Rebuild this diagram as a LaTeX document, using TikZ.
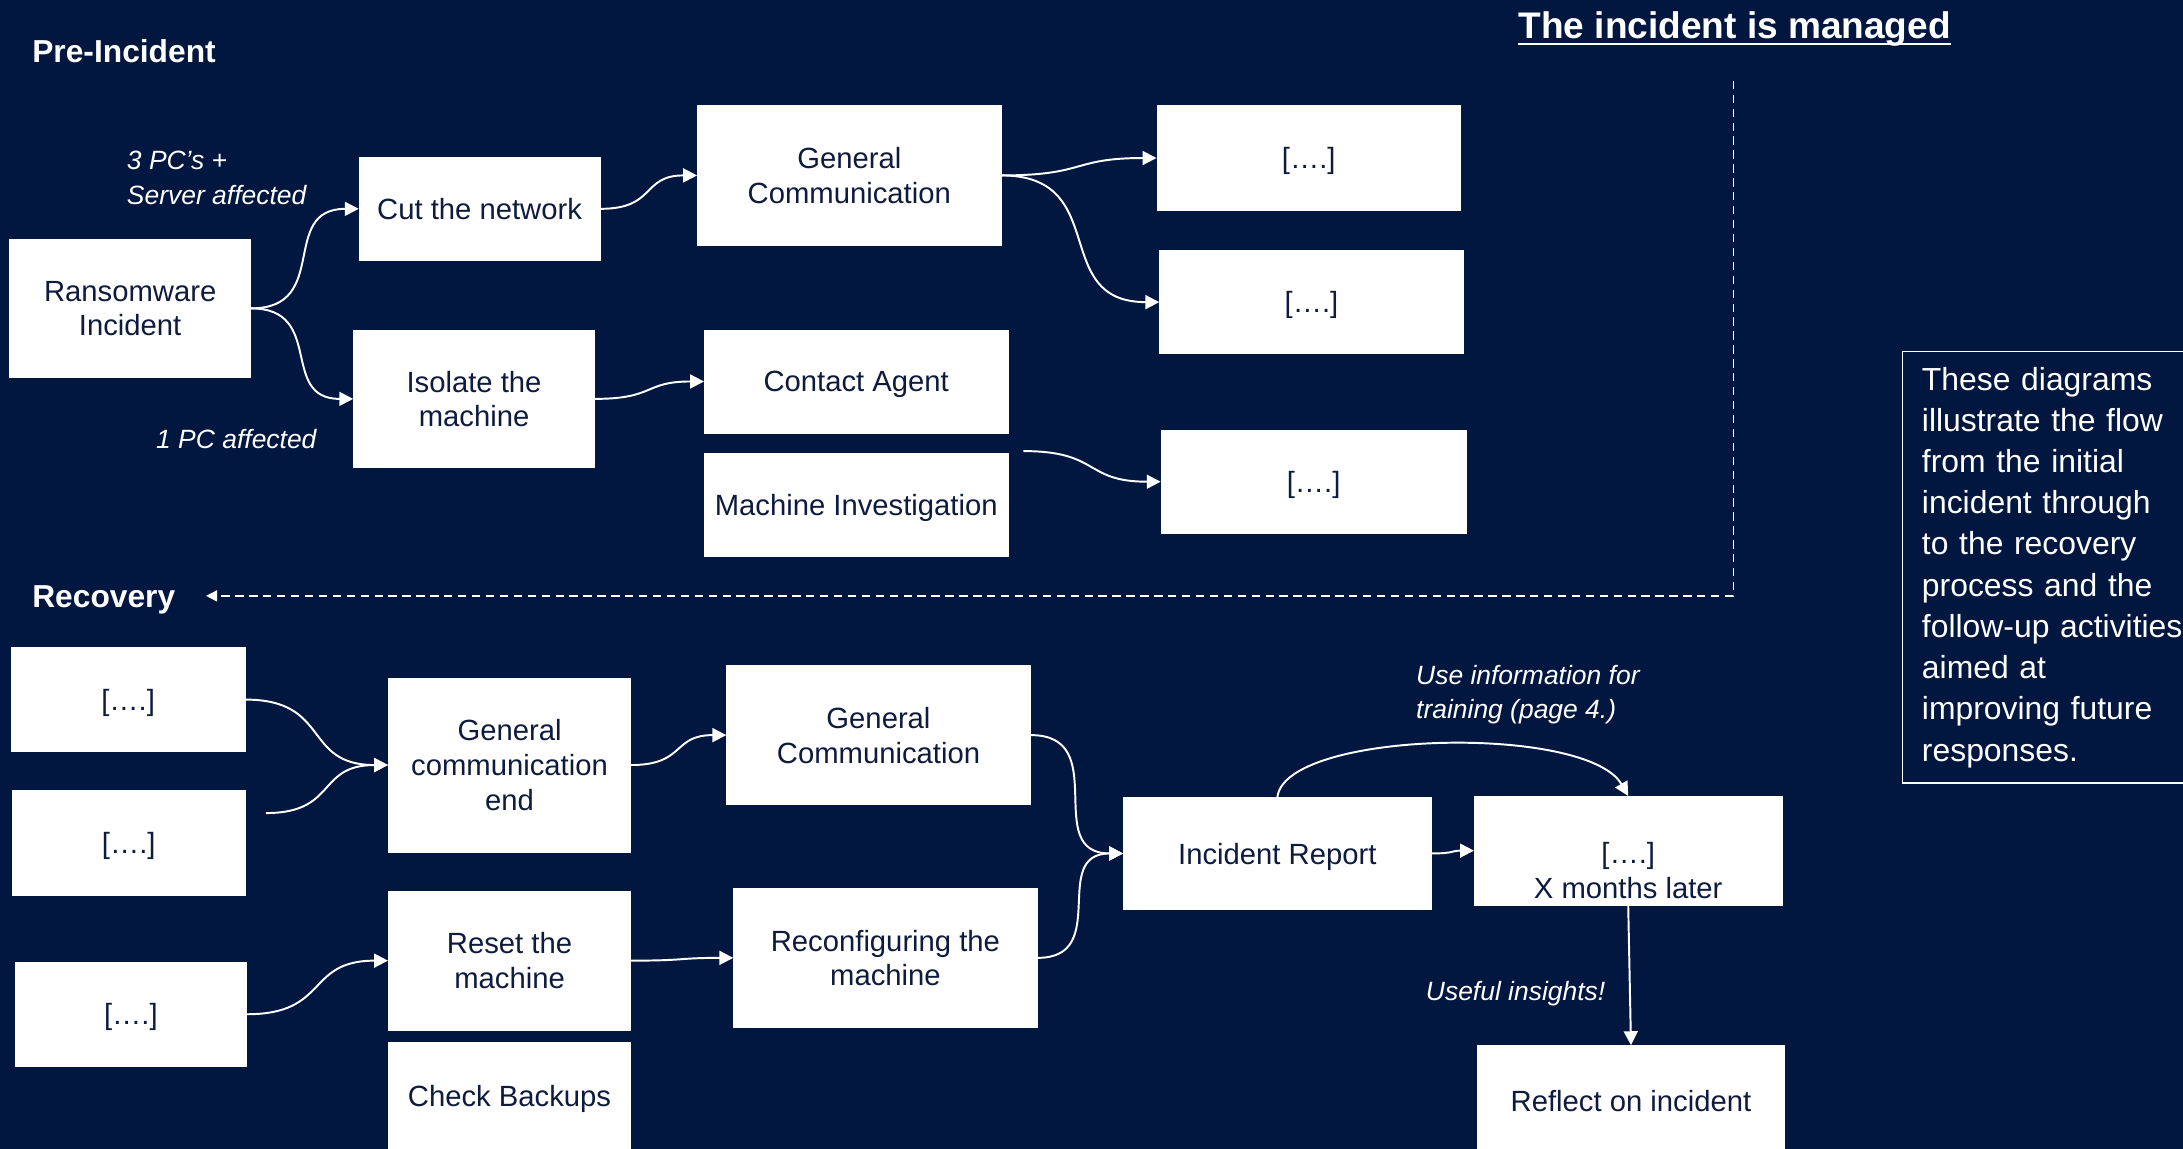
\documentclass[tikz,border=0pt]{standalone}
\usepackage{fontspec}
\setmainfont{Liberation Sans}
\usetikzlibrary{arrows.meta}
\definecolor{bg}{HTML}{011740}
\definecolor{ink}{HTML}{0E1B3D}
\tikzset{
  box/.style={draw=white, fill=white, line width=0.6pt, inner sep=0pt, text=ink, align=center, text depth=0pt, font=\fontsize{21}{25}\selectfont},
  boxtext/.style={inner sep=0pt, text=ink, align=center, font=\fontsize{21}{25}\selectfont},
  lbl/.style={text=white, align=left, inner sep=0pt, font=\fontsize{19}{25}\selectfont\itshape},
  head/.style={text=white, inner sep=0pt, font=\fontsize{22.8}{26}\selectfont\bfseries},
  flow/.style={draw=white, line width=1.4pt, looseness=1.4, -{Triangle[length=10pt,width=10pt]}},
  dashflow/.style={draw=white, line width=1.1pt, dash pattern=on 6pt off 4pt, -{Triangle[length=8pt,width=8pt]}},
}
\begin{document}
\begin{tikzpicture}[x=1pt,y=1pt]
\useasboundingbox (0,0) rectangle (1568,-825);
\fill[bg] (0,0) rectangle (1568,-825);

% headings
\node[head, anchor=base west] (pre) at (23,-45) {Pre-Incident};
\node[head, anchor=base west] (recovery) at (23,-436) {Recovery};
\node[text=white, inner sep=0pt, font=\fontsize{26.6}{30}\selectfont\bfseries, anchor=base] (title) at (1246,-28) {The incident is managed};
\draw[white, line width=1.3pt] ([yshift=-3.5pt]title.base west) -- ([yshift=-3.5pt]title.base east);

% pre-incident boxes
\node[box, minimum width=173pt, minimum height=99pt] (ransom) at (93.5,-221.5) {Ransomware\\Incident};
\node[box, minimum width=173pt, minimum height=74pt] (cut) at (344.5,-150) {Cut the network};
\node[box, minimum width=173pt, minimum height=99pt] (isolate) at (340.5,-286.5) {Isolate the\\machine};
\node[box, minimum width=218pt, minimum height=100pt] (gc1) at (610,-126) {General\\Communication};
\node[box, minimum width=218pt, minimum height=74pt] (contact) at (615,-274) {Contact Agent};
\node[box, minimum width=218pt, minimum height=74pt] (minv) at (615,-363) {Machine Investigation};
\node[box, minimum width=218pt, minimum height=75pt] (d1) at (940,-113.5) {[….]};
\node[box, minimum width=218pt, minimum height=74pt] (d2) at (942,-217) {[….]};
\node[box, minimum width=219pt, minimum height=74pt] (d3) at (943.5,-346) {[….]};

% recovery boxes
\node[box, minimum width=168pt, minimum height=75pt] (ra) at (92,-502.5) {[….]};
\node[box, minimum width=167pt, minimum height=75pt] (rb) at (92.5,-605.5) {[….]};
\node[box, minimum width=166pt, minimum height=75pt] (rc) at (94,-728.5) {[….]};
\node[box, minimum width=174pt, minimum height=125pt] (gce) at (366,-549.5) {General\\communication\\end};
\node[box, minimum width=174pt, minimum height=100pt] (reset) at (366,-690) {Reset the\\machine};
\node[box, minimum width=174pt, minimum height=76pt] (backup) at (366,-787) {Check Backups};
\node[box, minimum width=218pt, minimum height=100pt] (gc2) at (631,-528) {General\\Communication};
\node[box, minimum width=218pt, minimum height=100pt] (reconf) at (636,-688) {Reconfiguring the\\machine};
\node[box, minimum width=221pt, minimum height=80pt] (ir) at (917.5,-613) {Incident Report};
\node[box, minimum width=221pt, minimum height=78pt] (later) at (1169.5,-611) {};
\node[boxtext] (latertext) at (1169.5,-625) {[….]\\X months later};
\node[box, minimum width=221pt, minimum height=80pt] (reflect) at (1171.5,-791) {Reflect on incident};

% labels
\node[lbl, anchor=west] (l1) at (91,-127.5) {3 PC’s +\\Server affected};
\node[lbl, anchor=west] (l2) at (112,-315) {1 PC affected};
\node[lbl, anchor=west] (l3) at (1017,-499) {Use information for\\training (page 4.)};
\node[lbl, anchor=west] (l4) at (1024,-714) {Useful insights!};

% note
\node[draw=white, line width=1pt, anchor=north west, minimum height=310pt, text width=212pt, align=left, inner xsep=14pt, inner ysep=0pt, text=white, font=\fontsize{22.9}{29.6}\selectfont] (note) at (1366,-252) {These diagrams\\illustrate the flow\\from the initial\\incident through\\to the recovery\\process and the\\follow-up activities\\aimed at\\improving future\\responses.};

% connectors pre-incident
\draw[flow] (ransom.east) to[out=0,in=180] (cut.west);
\draw[flow] (ransom.east) to[out=0,in=180] (isolate.west);
\draw[flow] (cut.east) to[out=0,in=180] (gc1.west);
\draw[flow] (isolate.east) to[out=0,in=180] (contact.west);
\draw[flow] (gc1.east) to[out=0,in=180] (d1.west);
\draw[flow] (gc1.east) to[out=0,in=180] (d2.west);
\coordinate (mstart) at (735,-324);
\draw[flow] (mstart) to[out=0,in=180] (d3.west);

% dashed
\coordinate (dtop) at (1245,-58);
\coordinate (dend) at (148,-428);
\draw[dashflow] (dtop) -- (dtop |- dend) -- (dend);

% connectors recovery
\draw[flow] (ra.east) to[out=0,in=180] (gce.west);
\coordinate (rbstart) at (191,-584);
\draw[flow] (rbstart) to[out=0,in=180] (gce.west);
\draw[flow] (rc.east) to[out=0,in=180] (reset.west);
\draw[flow] (gce.east) to[out=0,in=180] (gc2.west);
\draw[flow] (reset.east) to[out=0,in=180] (reconf.west);
\draw[flow] (gc2.east) to[out=0,in=180] (ir.west);
\draw[flow] (reconf.east) to[out=0,in=180] (ir.west);
\draw[flow] (ir.east) to[out=0,in=180] (later.west);
\draw[flow] (ir.north) .. controls +(5,48) and +(-30,52) .. (later.north);
\draw[flow] (later.south) -- (reflect.north);
\end{tikzpicture}
\end{document}
